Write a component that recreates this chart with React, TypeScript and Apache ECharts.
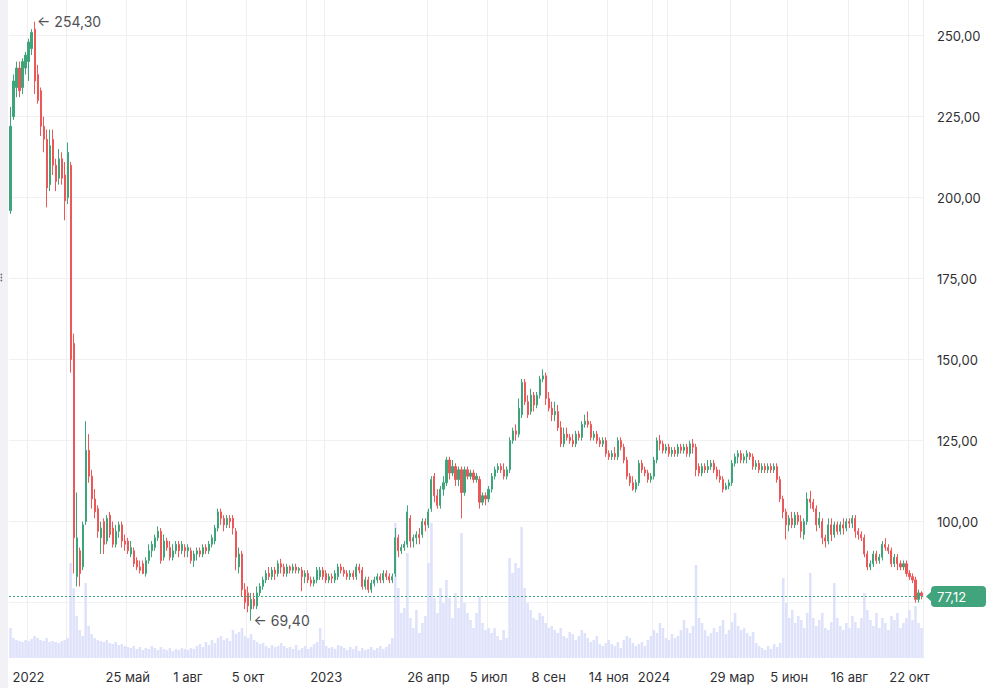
import React, { useEffect, useRef } from 'react';
import * as echarts from 'echarts';

// Candles: [open, close, low, high], each candle ≈ two trading days
const candlesEarly2022: number[][] = [
  [196,222,195,228],[225,236,224,238],[234,240,231,242],[240,233,231,242],[234,242,232,243],
  [240,244,238,245],[242,248,236,249],[246,251,244,252],[252,236,232,254.3],[238,230,229,241],
  [233,222,219,234],[222,218,214,225],[218,203,197,221],[204,216,202,221],[218,210,207,221],
  [210,205,202,212],[206,212,204,215],[212,206,204,214],[207,199,193,211],[200,214,198,217],
  [210,150,146,211],[155,95,84,158],[83,95,80,109],[91,84,80,92],[86,99,85,100],
  [100,122,99,131],[122,114,112,127],[114,107,104,116],[107,103,101,110],[104,97,95,105],
  [95,98,90,100],[100,93,90,101],[94,101,93,102],[102,96,95,103],[98,93,92,100],
  [93,97,92,99],[97,99,95,100],[99,94,92,100],[94,93,91,96],[94,91,90,95],
];
const candlesLate2022: number[][] = [
  [90,92,89,94],[91,87,86,92],[88,86,85,89],[86,85,84,88],[87,84,83.8,88],
  [84,88,83,89],[88,91,87,93],[91,93,89,94],[92,95,91,96],[95,97,94,98.5],
  [97,88,87,98],[89,94,88,96],[94,92,91,95],[92,89,88,94],[89,91,88,93],
  [91,93,90,94],[93,91,89,94],[91,93,90,94],[92,91,89,93],[91,92,89,93],
  [91,88,87,92],[88,90,86,91],[90,91,88,92],[91,90,89,92],[90,92,89,93],
  [92,91,90,93],[91,93,90,94],[93,95,92,96],[94,98,93,99],[98,103,97,104],
  [103,101,99,104],[101,99,97,102],[99,101,98,102],[101,100,98,102],[101,98,96,102],
  [97,89,85,98],[86,90,84,92],[90,79,77,91],[79,75,73,81],[78,74,72,80],
  [73,76,69.4,78],[76,74,73,78],[74,78,73,80],[78,80,77,81],[80,82,79,83],
  [82,84,81,85],[84,83,82,86],[83,85,82,86],[85,84,82,86],[84,87,83,88],
  [87,86,84,88.5],[86,84,83,87],[84,86,83,87],[86,85,84,86.5],[85,86,84,87],
  [86,85,84,87],[85,85.5,84,86],[85,83,78.5,86],[83,84,81,85],[84,82,81,85],
  [82,81,80,83],[81,82,80,83],[82,85,81,86],[83,85,82,86],[85,83,82,86],
  [84,82,81,85],
];
const candles2023: number[][] = [
  [82,83,81,84],[83,82.5,81,84],[82,84,81,85],[83,86,82,87],[86,85,84,87],
  [85,84,83,86],[84,83,82,85],[83,84,82,85],[84,83,82,85],[83,86,82,87],
  [86,85,84,87],[85,80,79,86],[80,82,79,83],[82,79,78,83],[79,81,78,82],
  [81,82,80,83],[82,83,81,84],[83,82,81,84],[82,84,81,85],[84,83,82,85],
  [83,82,81,84],[82,83,81,84],[84,95,83,98],[95,91,89,96],[91,92,90,93],
  [92,93,91,94],[93,103,92,105],[101,94,92,102],[94,95,92,96],[95,96,93,97],
  [96,95,93,98],[96,100,95,101],[100,99,97,101],[99,103,98,104],[104,113,103,114],
  [114,108,106,115],[108,105,104,110],[105,110,104,111],[110,112,108,114],[112,119,111,120],
  [119,115,113,120],[115,117,114,119],[117,113,111,118],[113,116,111,117],[116,109,101,117],
  [109,116,108,117],[116,114,113,117],[114,115,113,116],[115,113,112,116],[113,114,112,115],
  [113,106,104,114],[106,108,105,109],[108,107,105,109],[107,110,106,111],[110,114,109,115],
  [114,116,113,117],[116,117,115,118],[117,116,115,118],[116,114,113,118],[114,116,113,117],
  [116,125,115,126],[125,128,124,129],[128,127,125,130],[127,135,126,138],[133,143,132,144],
  [143,137,136,144],[137,133,132,139],[134,139,133,141],[139,136,134,140],[136,139,135,140],
  [139,144,138,145],[144,145,143,147],[145,138,136,146],[138,135,134,140],[135,133,131,137],
  [133,134,131,137],[134,129,128,136],[129,124,123,131],[124,127,123,129],[127,126,125,129],
  [126,125,124,127],[125,124,123,127],[124,127,123,128],[127,126,125,128],[126,130,125,131],
  [130,131,129,133],[131,130,129,134],[130,126,125,131],[126,127,125,128],[127,125,124,128],
  [125,124,123,126],[124,125,123,126],[125,121,120,126],[121,120,119,122],[120,121,119,122],
  [121,120,119,123],[120,125,119,126],[125,123,122,126],[123,119,118,124],[119,114,113,120],
  [114,112,111,115],[112,110,109.5,114],[110,112,109,113],[112,118,111,119],[118,116,115,119],
  [116,115,114,117],[115,113,112,116],[113,114,112,115],
];
const candles2024: number[][] = [
  [114,119,113,120],[119,125,118,126],[125,124,122,126.7],[124,122,121,125],[122,123,121,124],
  [123,121,120,124],[121,122,120,123],[122,121,120,123],[121,123,120,124],[123,122,121,124],
  [122,123,121,124],[123,121,120,124],[121,124,120,125],[124,123,121,125.5],[123,116,114,124],
  [117,115,114,118],[115,117,114,118],[117,116,115,118],[116,117,115,119],[117,118,116,119],
  [118,116,115,119],[116,114,113,117],[114,113,112,116],[113,110,109,114],[110,111,109.7,112],
  [111,112,110,113],[112,118,111,119],[118,120,117,121],[120,121,118,122],[121,119,118,122],
  [119,120,118,121],[120,121,118,122],[121,120,119,121.5],[120,117,116,121],[117,118,116,119],
  [118,116,115,119],[116,117,115,118],[117,116,115,118],[116,117,115,118],[117,116,115,118],
  [116,117,115,118],[117,113,112,118],[113,107,106,114],[107,103,101,108],[103,99,94.5,104],
  [99,101,97,102],[101,99,98,103],[99,102,98,103],[102,100,99,103],[100,97,95,102],
  [96,100,94.5,101],[100,107,99,109],[107,106,104,109.5],[106,104,103,107],[104,99,97,105],
  [99,101,98,103],[100,95,93,101],[95,94,92,96],[94,99,93,101],[99,96,94,101],
  [96,99,95,100],[99,97,96,100],[97,99,96,100],[99,98,96,101],[98,100,97,101],
  [100,99.5,98,101],[99.5,101,98,102],[101,97,95,102],[97,96,94.4,98],[96,95,94,97],
  [95,90,89,96],[90,86,85,91],[86,87,85,88],[87,90,86,91],[90,88,87,91],
  [88,89,87,90],[89,93,88,94],[93,92,91,94.9],[92,91,90,93],[91,87,86,92],
  [87,89,86,90],[89,87,85,90],[87,86,85,88],[86,87,85,88],[87,84,83,88],
  [84,83,82,85],[83,82,81,84],[82,76,75,83],[76,78,75,79],[78,77.12,76,78.5],
];

// Volume (relative units), one per candle
const volumesEarly2022: number[] = [
  30,20,18,17,16,18,17,19,22,20, 18,17,20,16,17,16,15,17,18,20,
  95,70,42,28,22,75,32,24,20,18, 17,16,18,15,14,16,13,14,12,11,
];
const volumesLate2022: number[] = [
  10,12,9,11,8,10,9,12,10,8, 11,9,8,10,7,9,8,10,9,8,
  10,9,12,14,11,16,13,18,15,20, 22,18,20,17,28,24,26,30,22,20,
  24,18,16,14,15,12,10,13,11,12, 15,12,10,11,9,13,8,10,12,9,
  11,14,16,30,18,12,
];
const volumes2023: number[] = [
  10,11,9,13, 12,10,8,11,9,12,7,10,8,9,
  11,8,10,12,9,11,14,20,135,70, 45,50,105,40,30,48,25,35,42,95,
  135,60,45,70,55,78,60,40,65,50, 125,55,45,38,30,45,62,35,28,30,
  25,30,22,18,28,20,100,85,95,90, 131,70,55,48,40,38,45,42,35,30,
  32,28,25,30,22,20,26,24,18,22, 28,25,20,16,18,22,14,12,15,18,
  14,12,16,10,18,22,20,15,12,14, 16,12,18,22,
];
const volumes2024: number[] = [
  28,25,35,30,20,18,
  24,20,22,28,38,30,25,32,93,40, 35,28,22,25,30,26,32,38,24,28,
  36,45,32,28,30,25,22,26,15,12, 10,8,12,9,14,11,15,80,55,40,
  48,35,42,38,30,45,85,40,32,38, 45,30,28,36,75,40,32,28,35,30,
  42,36,30,40,65,48,38,32,45,30, 40,35,28,42,38,45,30,35,40,48,
  38,52,35,30,
];

// x-axis labels: [candle index, text]
const tickLabels: [number, string][] = [
  [6, '2022'], [39, '25 май'], [59, '1 авг'], [79, '5 окт'], [105, '2023'],
  [139, '26 апр'], [159, '5 июл'], [179, '8 сен'], [199, '14 ноя'], [214, '2024'],
  [240, '29 мар'], [259, '5 июн'], [279, '16 авг'], [299, '22 окт'],
];
const unlabeledGridTicks: number[] = [19, 99, 219];
// price scale
const priceGridValues: number[] = [75, 100, 125, 150, 175, 200, 225, 250];
const priceLabelValues: number[] = [100, 125, 150, 175, 200, 225, 250];
const priceScaleMin = 57.9;
const priceScaleMax = 261;

const UP = '#3ea57b';
const DOWN = '#ec5757';
const LAST = '#3fa57c';
const FONT = 'Inter, Roboto, "Noto Sans", sans-serif';
const GRID_LEFT = 9;
const GRID_RIGHT = 66;
const WIDTH = 989;

const fmt = (v: number) => v.toFixed(2).replace('.', ',');

export default function App() {
  const ref = useRef<HTMLDivElement>(null);

  useEffect(() => {
    if (!ref.current) return;
    const chart = echarts.init(ref.current, undefined, { renderer: 'svg' });

    const candles = [...candlesEarly2022, ...candlesLate2022, ...candles2023, ...candles2024];
    const volumes = [...volumesEarly2022, ...volumesLate2022, ...volumes2023, ...volumes2024];
    const categories = candles.map((_, i) => String(i));
    const labelMap = new Map<number, string>(tickLabels);
    const gridSet = new Set<number>([...tickLabels.map((t) => t[0]), ...unlabeledGridTicks]);

    let hiIdx = 0, loIdx = 0;
    candles.forEach((c, i) => {
      if (c[3] > candles[hiIdx][3]) hiIdx = i;
      if (c[2] < candles[loIdx][2]) loIdx = i;
    });
    const last = candles[candles.length - 1][1];

    const option: any = {
      animation: false,
      backgroundColor: '#ffffff',
      textStyle: { fontFamily: FONT },
      grid: [
        { left: GRID_LEFT, right: GRID_RIGHT, top: 0, bottom: 30 },
        { left: GRID_LEFT, right: GRID_RIGHT, top: 0, bottom: 30 },
      ],
      xAxis: [
        { type: 'category', gridIndex: 0, data: categories, show: false, boundaryGap: true },
        {
          type: 'category', gridIndex: 1, data: categories, boundaryGap: true,
          axisLine: { show: false }, axisTick: { show: false },
          axisLabel: {
            interval: (i: number) => labelMap.has(i),
            formatter: (_v: string, i: number) => labelMap.get(i) ?? '',
            color: '#2f2f33', fontSize: 13, margin: 12, fontFamily: FONT,
          },
          splitLine: {
            show: true,
            interval: (i: number) => gridSet.has(i),
            lineStyle: { color: '#efeff3', width: 1 },
          },
        },
      ],
      yAxis: [
        {
          type: 'value', gridIndex: 0, position: 'right', min: priceScaleMin, max: priceScaleMax,
          axisLine: { show: false },
          axisTick: { show: false, customValues: priceGridValues },
          axisLabel: {
            customValues: priceLabelValues,
            formatter: (v: number) => fmt(v),
            color: '#2f2f33', fontSize: 13, margin: 14, fontFamily: FONT,
          },
          splitLine: { show: true, lineStyle: { color: '#f1f1f4', width: 1 } },
        },
        {
          type: 'value', gridIndex: 1, position: 'right', min: 0, max: 658,
          axisLine: { show: true, lineStyle: { color: '#ececf1' } },
          axisTick: { show: false }, axisLabel: { show: false }, splitLine: { show: false },
        },
      ],
      series: [
        {
          type: 'bar', xAxisIndex: 1, yAxisIndex: 1, data: volumes,
          barWidth: '85%', itemStyle: { color: '#dfe2fb' }, silent: true,
        },
        {
          type: 'candlestick', xAxisIndex: 0, yAxisIndex: 0, data: candles,
          barWidth: 1.6,
          itemStyle: { color: UP, color0: DOWN, borderColor: UP, borderColor0: DOWN, borderWidth: 1 },
          markPoint: {
            silent: true, symbol: 'circle', symbolSize: 1,
            itemStyle: { color: 'rgba(0,0,0,0)' },
            label: {
              show: true, position: 'right', distance: 2, color: '#505055',
              fontSize: 14, fontFamily: FONT,
            },
            data: [
              { coord: [String(hiIdx), candles[hiIdx][3]], label: { formatter: '← ' + fmt(candles[hiIdx][3]) } },
              { coord: [String(loIdx), candles[loIdx][2]], label: { formatter: '← ' + fmt(candles[loIdx][2]) } },
            ],
          },
        },
      ],
    };
    chart.setOption(option);

    const y = Math.round(chart.convertToPixel({ yAxisIndex: 0 }, last) as number) + 0.5;
    const xr = WIDTH - GRID_RIGHT;
    chart.setOption({
      graphic: [
        {
          type: 'line', z: 50, silent: true,
          shape: { x1: GRID_LEFT, y1: y, x2: xr, y2: y },
          style: { stroke: LAST, lineWidth: 1, lineDash: [2, 2] },
        },
        { type: 'rect', shape: { x: 0, y: 0, width: 8, height: 688 }, style: { fill: '#f1f1f6' }, z: 100 },
        { type: 'circle', shape: { cx: 1.4, cy: 274.5, r: 0.8 }, style: { fill: '#6b6b75' }, z: 101 },
        { type: 'circle', shape: { cx: 1.4, cy: 277.5, r: 0.8 }, style: { fill: '#6b6b75' }, z: 101 },
        { type: 'circle', shape: { cx: 1.4, cy: 280.5, r: 0.8 }, style: { fill: '#6b6b75' }, z: 101 },
        { type: 'polygon', shape: { points: [[xr + 3, y], [xr + 10, y - 6.5], [xr + 10, y + 6.5]] }, style: { fill: '#41a47c' }, z: 100 },
        { type: 'rect', shape: { x: xr + 8, y: y - 10.5, width: 55, height: 21, r: 4 }, style: { fill: '#41a47c' }, z: 100 },
        {
          type: 'text', x: xr + 14, y: y, z: 101,
          style: { text: fmt(last), fill: '#ffffff', font: `13px ${FONT}`, verticalAlign: 'middle', align: 'left' },
        },
      ],
    });

    return () => chart.dispose();
  }, []);

  return (
    <div
      ref={ref}
      style={{ position: 'fixed', left: 0, top: 0, width: 989, height: 688 }}
    />
  );
}
